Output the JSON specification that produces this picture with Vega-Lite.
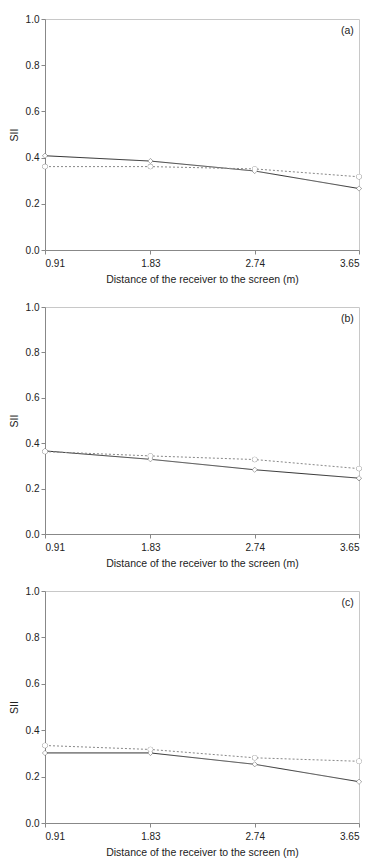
{
  "$schema": "https://vega.github.io/schema/vega-lite/v6.json",
  "padding": {"top": 13, "left": 8, "right": 8, "bottom": 4},
  "background": "white",
  "spacing": 16,
  "config": {
    "font": "Liberation Sans",
    "view": {"stroke": "#c8c8c8", "strokeWidth": 1},
    "axis": {"grid": false, "domainColor": "#888", "tickColor": "#888", "labelFont": "Liberation Sans", "titleFont": "Liberation Sans", "labelFontSize": 10, "titleFontSize": 10.5, "titleFontWeight": "normal", "labelColor": "#222", "titleColor": "#222", "tickSize": 4},
    "title": {"font": "Liberation Sans", "fontSize": 10.5, "fontWeight": "normal", "color": "#222"}
  },
  "data": {"values": [
    {"panel": "a", "series": "solid", "distance": 0.91, "SII": 0.408},
    {"panel": "a", "series": "solid", "distance": 1.83, "SII": 0.385},
    {"panel": "a", "series": "solid", "distance": 2.74, "SII": 0.342},
    {"panel": "a", "series": "solid", "distance": 3.65, "SII": 0.266},
    {"panel": "a", "series": "dotted", "distance": 0.91, "SII": 0.361},
    {"panel": "a", "series": "dotted", "distance": 1.83, "SII": 0.361},
    {"panel": "a", "series": "dotted", "distance": 2.74, "SII": 0.351},
    {"panel": "a", "series": "dotted", "distance": 3.65, "SII": 0.317},
    {"panel": "b", "series": "solid", "distance": 0.91, "SII": 0.366},
    {"panel": "b", "series": "solid", "distance": 1.83, "SII": 0.329},
    {"panel": "b", "series": "solid", "distance": 2.74, "SII": 0.283},
    {"panel": "b", "series": "solid", "distance": 3.65, "SII": 0.246},
    {"panel": "b", "series": "dotted", "distance": 0.91, "SII": 0.363},
    {"panel": "b", "series": "dotted", "distance": 1.83, "SII": 0.344},
    {"panel": "b", "series": "dotted", "distance": 2.74, "SII": 0.328},
    {"panel": "b", "series": "dotted", "distance": 3.65, "SII": 0.288},
    {"panel": "c", "series": "solid", "distance": 0.91, "SII": 0.302},
    {"panel": "c", "series": "solid", "distance": 1.83, "SII": 0.302},
    {"panel": "c", "series": "solid", "distance": 2.74, "SII": 0.253},
    {"panel": "c", "series": "solid", "distance": 3.65, "SII": 0.178},
    {"panel": "c", "series": "dotted", "distance": 0.91, "SII": 0.334},
    {"panel": "c", "series": "dotted", "distance": 1.83, "SII": 0.317},
    {"panel": "c", "series": "dotted", "distance": 2.74, "SII": 0.281},
    {"panel": "c", "series": "dotted", "distance": 3.65, "SII": 0.266}
  ]},
  "vconcat": [
    {
      "width": 314, "height": 231,
      "title": {"text": "(a)", "anchor": "end", "orient": "top", "offset": -22, "dx": -8},
      "transform": [{"filter": "datum.panel === 'a'"}],
      "encoding": {
        "x": {"field": "distance", "type": "quantitative", "scale": {"domain": [0.91, 3.65], "nice": false, "zero": false}, "axis": {"values": [0.91, 1.83, 2.74, 3.65], "format": ".2f", "title": "Distance of the receiver to the screen (m)", "titlePadding": 6, "labelPadding": 4}},
        "y": {"field": "SII", "type": "quantitative", "scale": {"domain": [0, 1], "nice": false}, "axis": {"values": [0, 0.2, 0.4, 0.6, 0.8, 1.0], "format": ".1f", "title": "SII", "titlePadding": 6}},
        "strokeDash": {"field": "series", "type": "nominal", "scale": {"domain": ["solid", "dotted"], "range": [[1, 0], [2, 2]]}, "legend": null},
        "color": {"field": "series", "type": "nominal", "scale": {"domain": ["solid", "dotted"], "range": ["#333333", "#888888"]}, "legend": null},
        "shape": {"field": "series", "type": "nominal", "scale": {"domain": ["solid", "dotted"], "range": ["diamond", "circle"]}, "legend": null}
      },
      "layer": [
        {"mark": {"type": "line", "strokeWidth": 1}},
        {"mark": {"type": "point", "filled": true, "fill": "white", "size": 24, "strokeWidth": 1, "opacity": 1}}
      ]
    },
    {
      "width": 314, "height": 227,
      "title": {"text": "(b)", "anchor": "end", "orient": "top", "offset": -22, "dx": -8},
      "transform": [{"filter": "datum.panel === 'b'"}],
      "encoding": {
        "x": {"field": "distance", "type": "quantitative", "scale": {"domain": [0.91, 3.65], "nice": false, "zero": false}, "axis": {"values": [0.91, 1.83, 2.74, 3.65], "format": ".2f", "title": "Distance of the receiver to the screen (m)", "titlePadding": 6, "labelPadding": 4}},
        "y": {"field": "SII", "type": "quantitative", "scale": {"domain": [0, 1], "nice": false}, "axis": {"values": [0, 0.2, 0.4, 0.6, 0.8, 1.0], "format": ".1f", "title": "SII", "titlePadding": 6}},
        "strokeDash": {"field": "series", "type": "nominal", "scale": {"domain": ["solid", "dotted"], "range": [[1, 0], [2, 2]]}, "legend": null},
        "color": {"field": "series", "type": "nominal", "scale": {"domain": ["solid", "dotted"], "range": ["#333333", "#888888"]}, "legend": null},
        "shape": {"field": "series", "type": "nominal", "scale": {"domain": ["solid", "dotted"], "range": ["diamond", "circle"]}, "legend": null}
      },
      "layer": [
        {"mark": {"type": "line", "strokeWidth": 1}},
        {"mark": {"type": "point", "filled": true, "fill": "white", "size": 24, "strokeWidth": 1, "opacity": 1}}
      ]
    },
    {
      "width": 314, "height": 232,
      "title": {"text": "(c)", "anchor": "end", "orient": "top", "offset": -22, "dx": -8},
      "transform": [{"filter": "datum.panel === 'c'"}],
      "encoding": {
        "x": {"field": "distance", "type": "quantitative", "scale": {"domain": [0.91, 3.65], "nice": false, "zero": false}, "axis": {"values": [0.91, 1.83, 2.74, 3.65], "format": ".2f", "title": "Distance of the receiver to the screen (m)", "titlePadding": 6, "labelPadding": 4}},
        "y": {"field": "SII", "type": "quantitative", "scale": {"domain": [0, 1], "nice": false}, "axis": {"values": [0, 0.2, 0.4, 0.6, 0.8, 1.0], "format": ".1f", "title": "SII", "titlePadding": 6}},
        "strokeDash": {"field": "series", "type": "nominal", "scale": {"domain": ["solid", "dotted"], "range": [[1, 0], [2, 2]]}, "legend": null},
        "color": {"field": "series", "type": "nominal", "scale": {"domain": ["solid", "dotted"], "range": ["#333333", "#888888"]}, "legend": null},
        "shape": {"field": "series", "type": "nominal", "scale": {"domain": ["solid", "dotted"], "range": ["diamond", "circle"]}, "legend": null}
      },
      "layer": [
        {"mark": {"type": "line", "strokeWidth": 1}},
        {"mark": {"type": "point", "filled": true, "fill": "white", "size": 24, "strokeWidth": 1, "opacity": 1}}
      ]
    }
  ]
}
